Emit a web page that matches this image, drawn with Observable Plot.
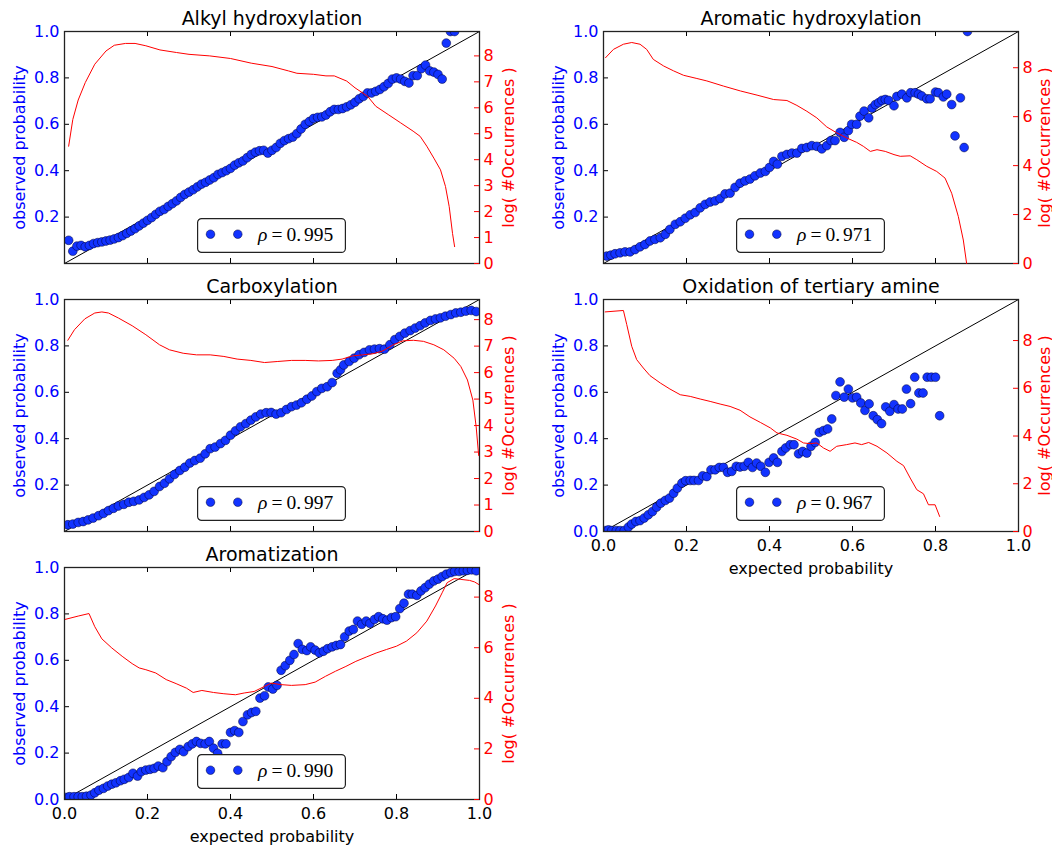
<!DOCTYPE html>
<html>
<head>
<meta charset="utf-8">
<script src="https://cdn.jsdelivr.net/npm/d3@7"></script>
<script src="https://cdn.jsdelivr.net/npm/@observablehq/plot@0.6"></script>
<style>
  html, body { margin: 0; padding: 0; background: #fff; }
  #root { position: relative; width: 1052px; height: 845px; overflow: hidden; font-family: "DejaVu Sans", sans-serif; }
  .panel { position: absolute; }
  .panel > svg, .panel > div { position: absolute; }
</style>
</head>
<body>
<div id="root"></div>
<script>
// ---------- data ----------
const titles = ["Alkyl hydroxylation", "Aromatic hydroxylation", "Carboxylation", "Oxidation of tertiary amine", "Aromatization"];
const rhoValues = ["0.995", "0.971", "0.997", "0.967", "0.990"];

// [expected probability, observed probability]
const alkylPoints = [[0.01,0.10],[0.02,0.053],[0.03,0.075],[0.04,0.078],[0.05,0.072],[0.06,0.078],[0.07,0.086],[0.08,0.09],[0.09,0.093],[0.10,0.097],[0.11,0.101],[0.12,0.106],[0.13,0.112],[0.14,0.12],[0.15,0.13],[0.16,0.14],[0.17,0.15],[0.18,0.162],[0.19,0.174],[0.20,0.186],[0.21,0.198],[0.22,0.212],[0.23,0.225],[0.24,0.233],[0.25,0.246],[0.26,0.258],[0.27,0.27],[0.28,0.285],[0.29,0.298],[0.30,0.308],[0.31,0.318],[0.32,0.33],[0.33,0.342],[0.34,0.35],[0.35,0.36],[0.36,0.37],[0.37,0.384],[0.38,0.392],[0.39,0.40],[0.40,0.41],[0.41,0.424],[0.42,0.434],[0.43,0.442],[0.44,0.456],[0.45,0.47],[0.46,0.48],[0.47,0.486],[0.48,0.488],[0.49,0.476],[0.50,0.488],[0.51,0.50],[0.52,0.518],[0.53,0.53],[0.54,0.538],[0.55,0.545],[0.56,0.56],[0.57,0.58],[0.58,0.60],[0.59,0.612],[0.60,0.625],[0.61,0.63],[0.62,0.632],[0.63,0.64],[0.64,0.654],[0.65,0.664],[0.66,0.664],[0.67,0.668],[0.68,0.675],[0.69,0.684],[0.70,0.695],[0.71,0.71],[0.72,0.72],[0.73,0.735],[0.74,0.735],[0.75,0.742],[0.76,0.75],[0.77,0.762],[0.78,0.776],[0.79,0.795],[0.80,0.80],[0.81,0.795],[0.82,0.785],[0.83,0.778],[0.84,0.81],[0.85,0.81],[0.86,0.84],[0.87,0.855],[0.88,0.83],[0.89,0.825],[0.90,0.815],[0.91,0.795],[0.92,0.95],[0.93,1.0],[0.94,1.0]];
const aromHydPoints = [[0.008,0.032],[0.018,0.036],[0.028,0.042],[0.04,0.046],[0.052,0.05],[0.064,0.05],[0.076,0.06],[0.088,0.072],[0.10,0.082],[0.112,0.097],[0.124,0.104],[0.137,0.111],[0.149,0.126],[0.16,0.147],[0.173,0.169],[0.185,0.18],[0.197,0.195],[0.209,0.21],[0.221,0.22],[0.233,0.24],[0.245,0.255],[0.257,0.265],[0.269,0.27],[0.281,0.28],[0.293,0.30],[0.305,0.303],[0.317,0.328],[0.329,0.346],[0.341,0.356],[0.353,0.364],[0.365,0.378],[0.378,0.39],[0.39,0.397],[0.40,0.414],[0.41,0.44],[0.419,0.428],[0.43,0.462],[0.442,0.47],[0.454,0.476],[0.466,0.476],[0.478,0.496],[0.49,0.50],[0.502,0.508],[0.514,0.505],[0.526,0.494],[0.538,0.508],[0.548,0.53],[0.558,0.53],[0.57,0.565],[0.58,0.544],[0.59,0.573],[0.598,0.60],[0.61,0.60],[0.618,0.635],[0.628,0.657],[0.639,0.628],[0.647,0.67],[0.655,0.685],[0.663,0.693],[0.671,0.703],[0.679,0.707],[0.687,0.703],[0.70,0.68],[0.707,0.72],[0.719,0.73],[0.731,0.714],[0.74,0.736],[0.751,0.736],[0.759,0.73],[0.767,0.722],[0.779,0.71],[0.787,0.71],[0.80,0.739],[0.807,0.736],[0.819,0.718],[0.827,0.73],[0.839,0.685],[0.847,0.55],[0.86,0.714],[0.869,0.50],[0.877,1.0]];
const carboxPoints = [[0.008,0.029],[0.02,0.032],[0.033,0.039],[0.045,0.043],[0.057,0.05],[0.069,0.058],[0.082,0.068],[0.094,0.078],[0.106,0.09],[0.118,0.10],[0.13,0.11],[0.143,0.117],[0.155,0.126],[0.167,0.13],[0.18,0.136],[0.192,0.147],[0.204,0.158],[0.216,0.173],[0.229,0.194],[0.241,0.208],[0.253,0.227],[0.265,0.246],[0.278,0.263],[0.29,0.277],[0.302,0.295],[0.314,0.306],[0.327,0.316],[0.339,0.335],[0.351,0.357],[0.363,0.364],[0.376,0.379],[0.388,0.393],[0.40,0.415],[0.412,0.434],[0.424,0.451],[0.437,0.465],[0.449,0.48],[0.461,0.494],[0.473,0.506],[0.486,0.512],[0.498,0.513],[0.51,0.506],[0.522,0.512],[0.535,0.526],[0.547,0.538],[0.559,0.545],[0.571,0.555],[0.584,0.57],[0.596,0.584],[0.608,0.603],[0.62,0.617],[0.633,0.624],[0.645,0.642],[0.657,0.682],[0.665,0.697],[0.673,0.718],[0.686,0.733],[0.698,0.747],[0.71,0.762],[0.722,0.772],[0.735,0.783],[0.747,0.786],[0.759,0.788],[0.771,0.786],[0.784,0.805],[0.796,0.827],[0.808,0.841],[0.82,0.855],[0.833,0.866],[0.845,0.877],[0.857,0.887],[0.869,0.899],[0.882,0.91],[0.894,0.916],[0.906,0.921],[0.918,0.928],[0.931,0.935],[0.943,0.942],[0.955,0.945],[0.967,0.95],[0.98,0.953],[0.992,0.948]];
const amineOxPoints = [[0.004,0.004],[0.012,0.007],[0.02,0.004],[0.031,0.004],[0.04,0.004],[0.05,0.004],[0.06,0.019],[0.068,0.032],[0.078,0.043],[0.088,0.047],[0.098,0.058],[0.108,0.072],[0.118,0.086],[0.128,0.105],[0.138,0.122],[0.149,0.134],[0.159,0.144],[0.169,0.165],[0.178,0.187],[0.189,0.209],[0.198,0.219],[0.209,0.22],[0.218,0.22],[0.229,0.22],[0.239,0.24],[0.249,0.237],[0.259,0.266],[0.269,0.266],[0.279,0.276],[0.289,0.276],[0.299,0.255],[0.309,0.259],[0.32,0.281],[0.329,0.278],[0.339,0.281],[0.349,0.298],[0.359,0.276],[0.369,0.295],[0.379,0.281],[0.39,0.255],[0.399,0.298],[0.41,0.317],[0.419,0.298],[0.43,0.345],[0.439,0.36],[0.45,0.374],[0.459,0.374],[0.47,0.335],[0.48,0.345],[0.49,0.338],[0.50,0.367],[0.51,0.384],[0.52,0.427],[0.53,0.435],[0.54,0.442],[0.55,0.485],[0.56,0.586],[0.57,0.645],[0.58,0.579],[0.59,0.614],[0.60,0.576],[0.61,0.579],[0.62,0.554],[0.63,0.522],[0.64,0.55],[0.65,0.499],[0.66,0.482],[0.67,0.465],[0.68,0.537],[0.69,0.518],[0.70,0.547],[0.71,0.528],[0.72,0.528],[0.73,0.614],[0.74,0.551],[0.75,0.665],[0.76,0.597],[0.77,0.597],[0.78,0.665],[0.79,0.665],[0.80,0.665],[0.81,0.499]];
const aromatizationPoints = [[0.004,0.009],[0.012,0.012],[0.023,0.012],[0.033,0.012],[0.043,0.012],[0.053,0.014],[0.064,0.019],[0.073,0.029],[0.083,0.04],[0.094,0.048],[0.104,0.058],[0.114,0.066],[0.124,0.072],[0.135,0.081],[0.144,0.087],[0.155,0.095],[0.165,0.113],[0.176,0.101],[0.185,0.12],[0.196,0.127],[0.206,0.13],[0.216,0.134],[0.226,0.144],[0.237,0.137],[0.247,0.163],[0.257,0.185],[0.267,0.203],[0.278,0.216],[0.287,0.206],[0.298,0.228],[0.308,0.24],[0.318,0.25],[0.328,0.242],[0.339,0.24],[0.349,0.25],[0.359,0.221],[0.369,0.199],[0.38,0.24],[0.389,0.24],[0.40,0.289],[0.41,0.297],[0.42,0.289],[0.43,0.336],[0.441,0.365],[0.451,0.375],[0.461,0.38],[0.471,0.437],[0.482,0.447],[0.491,0.485],[0.502,0.476],[0.512,0.492],[0.522,0.557],[0.532,0.577],[0.543,0.6],[0.553,0.625],[0.563,0.672],[0.573,0.647],[0.584,0.642],[0.593,0.658],[0.604,0.644],[0.614,0.632],[0.624,0.639],[0.634,0.65],[0.645,0.658],[0.655,0.664],[0.665,0.668],[0.675,0.701],[0.686,0.726],[0.696,0.733],[0.706,0.769],[0.716,0.755],[0.727,0.769],[0.736,0.759],[0.747,0.776],[0.757,0.788],[0.767,0.779],[0.777,0.773],[0.788,0.784],[0.798,0.788],[0.808,0.823],[0.818,0.846],[0.829,0.885],[0.838,0.885],[0.849,0.88],[0.859,0.899],[0.869,0.913],[0.879,0.928],[0.89,0.942],[0.90,0.95],[0.91,0.961],[0.92,0.971],[0.931,0.978],[0.94,0.983],[0.951,0.983],[0.961,0.986],[0.971,0.988],[0.981,0.99],[0.992,0.986]];

// [expected probability, log(#Occurrences)]
const alkylCounts = [[0.01,4.52],[0.02,5.55],[0.033,6.3],[0.05,6.97],[0.073,7.68],[0.1,8.19],[0.12,8.41],[0.147,8.48],[0.17,8.48],[0.196,8.39],[0.23,8.23],[0.27,8.13],[0.30,8.06],[0.35,8.0],[0.40,7.9],[0.45,7.72],[0.50,7.59],[0.54,7.42],[0.56,7.33],[0.60,7.29],[0.63,7.23],[0.65,7.23],[0.68,7.03],[0.70,6.77],[0.73,6.45],[0.75,6.06],[0.78,5.74],[0.81,5.42],[0.84,5.1],[0.857,4.9],[0.873,4.52],[0.89,4.06],[0.906,3.61],[0.918,2.97],[0.927,2.19],[0.935,1.16],[0.94,0.65]];
const aromHydCounts = [[0.005,8.41],[0.024,8.75],[0.048,8.96],[0.068,9.03],[0.088,8.96],[0.104,8.75],[0.12,8.34],[0.145,8.07],[0.169,7.87],[0.193,7.69],[0.225,7.56],[0.249,7.46],[0.289,7.25],[0.33,7.05],[0.37,6.88],[0.41,6.70],[0.442,6.66],[0.466,6.46],[0.49,6.22],[0.514,5.95],[0.538,5.58],[0.562,5.34],[0.586,5.13],[0.61,4.95],[0.626,4.79],[0.643,4.58],[0.659,4.65],[0.679,4.58],[0.70,4.45],[0.715,4.38],[0.739,4.4],[0.755,4.24],[0.779,3.97],[0.803,3.76],[0.823,3.49],[0.839,2.87],[0.855,1.92],[0.867,0.96],[0.875,0.0]];
const carboxCounts = [[0.008,7.22],[0.024,7.62],[0.049,8.03],[0.073,8.25],[0.09,8.29],[0.106,8.25],[0.13,8.06],[0.163,7.77],[0.196,7.43],[0.229,7.05],[0.253,6.86],[0.286,6.73],[0.318,6.67],[0.351,6.67],[0.384,6.61],[0.416,6.51],[0.449,6.46],[0.482,6.38],[0.514,6.42],[0.547,6.46],[0.58,6.46],[0.612,6.44],[0.645,6.46],[0.669,6.51],[0.694,6.63],[0.718,6.67],[0.743,6.71],[0.767,6.82],[0.792,7.05],[0.816,7.2],[0.841,7.22],[0.865,7.18],[0.89,7.05],[0.914,6.86],[0.939,6.54],[0.955,6.23],[0.971,5.72],[0.984,4.96],[0.992,3.95],[0.998,2.87]];
const amineOxCounts = [[0.004,9.2],[0.048,9.26],[0.056,8.67],[0.068,7.76],[0.08,7.2],[0.096,6.85],[0.112,6.53],[0.137,6.22],[0.16,5.97],[0.185,5.73],[0.209,5.66],[0.233,5.55],[0.257,5.45],[0.281,5.34],[0.305,5.24],[0.329,5.08],[0.353,4.8],[0.378,4.57],[0.402,4.34],[0.418,4.13],[0.442,4.03],[0.466,3.87],[0.482,3.71],[0.498,3.68],[0.514,3.71],[0.53,3.5],[0.546,3.36],[0.562,3.57],[0.586,3.64],[0.606,3.71],[0.622,3.64],[0.639,3.73],[0.659,3.57],[0.683,3.29],[0.707,2.94],[0.723,2.76],[0.739,2.24],[0.755,1.75],[0.771,1.58],[0.783,1.12],[0.799,1.12],[0.81,0.63]];
const aromatizationCounts = [[0.002,7.12],[0.033,7.25],[0.059,7.35],[0.073,6.83],[0.09,6.35],[0.114,5.99],[0.139,5.66],[0.163,5.37],[0.18,5.2],[0.196,5.13],[0.22,5.0],[0.245,4.74],[0.269,4.58],[0.294,4.4],[0.31,4.23],[0.331,4.31],[0.359,4.23],[0.384,4.18],[0.412,4.14],[0.433,4.21],[0.457,4.27],[0.482,4.47],[0.498,4.6],[0.522,4.54],[0.547,4.51],[0.58,4.54],[0.604,4.64],[0.629,4.87],[0.653,5.07],[0.678,5.26],[0.702,5.46],[0.727,5.63],[0.751,5.79],[0.776,5.93],[0.8,6.06],[0.824,6.26],[0.849,6.59],[0.873,7.05],[0.894,7.65],[0.91,8.17],[0.922,8.57],[0.939,8.73],[0.955,8.7],[0.976,8.66],[0.988,8.6],[0.998,8.5]];

// tick values
const probTicks = [0.0, 0.2, 0.4, 0.6, 0.8, 1.0];
const probTicksNoZero = [0.2, 0.4, 0.6, 0.8, 1.0];
const innerXTicks = [0.2, 0.4, 0.6, 0.8];
const countTicksBy1 = [0, 1, 2, 3, 4, 5, 6, 7, 8];
const countTicksBy2 = [0, 2, 4, 6, 8];
const countMax = [8.94, 9.48, 8.76, 9.72, 9.17];
const diagonal = [0, 1];

// ---------- layout ----------
const FW = 415, FH = 232, MT = 31, PH = 313;
const panels = [
  {title: titles[0], rho: rhoValues[0], points: alkylPoints, counts: alkylCounts, cmax: countMax[0], cticks: countTicksBy1, yticks: probTicksNoZero, xlabels: false, left: 0, top: 0, w: 530, ml: 64, rdx: 29},
  {title: titles[1], rho: rhoValues[1], points: aromHydPoints, counts: aromHydCounts, cmax: countMax[1], cticks: countTicksBy2, yticks: probTicksNoZero, xlabels: false, left: 540, top: 0, w: 512, ml: 63, rdx: 26},
  {title: titles[2], rho: rhoValues[2], points: carboxPoints, counts: carboxCounts, cmax: countMax[2], cticks: countTicksBy1, yticks: probTicksNoZero, xlabels: false, left: 0, top: 268, w: 530, ml: 64, rdx: 29},
  {title: titles[3], rho: rhoValues[3], points: amineOxPoints, counts: amineOxCounts, cmax: countMax[3], cticks: countTicksBy2, yticks: probTicks, xlabels: true, left: 540, top: 268, w: 512, ml: 63, rdx: 26},
  {title: titles[4], rho: rhoValues[4], points: aromatizationPoints, counts: aromatizationCounts, cmax: countMax[4], cticks: countTicksBy2, yticks: probTicks, xlabels: true, left: 0, top: 536, w: 530, ml: 64, rdx: 29}
];

const fmt = d3.format(".1f");
const BLUE = "#0000ff", DOT = "#1233ff", RED = "#ff0000";
const root = document.getElementById("root");

function dims(p) {
  return {width: p.w, height: PH, marginLeft: p.ml, marginRight: p.w - p.ml - FW, marginTop: MT, marginBottom: PH - MT - FH,
    style: {background: "transparent", fontFamily: "DejaVu Sans", fontSize: "16px", overflow: "visible"}};
}

function leftPlot(p) {
  const marks = [
    Plot.line(diagonal, {x: d => d, y: d => d, stroke: "black", strokeWidth: 1}),
    Plot.dot(p.points, {x: d => d[0], y: d => d[1], r: 4.4, fill: DOT, stroke: "#000033", strokeWidth: 0.5, clip: true}),
    Plot.ruleY(probTicks, {y: d => d, insetRight: FW - 5, stroke: "black"}),
    Plot.ruleX(innerXTicks, {x: d => d, insetTop: FH - 5, stroke: "black"}),
    Plot.ruleX(innerXTicks, {x: d => d, insetBottom: FH - 5, stroke: "black"}),
    Plot.axisY(p.yticks, {anchor: "left", tickSize: 0, tickPadding: 5, tickFormat: fmt, fill: BLUE, fontSize: 16, label: null}),
    Plot.text(["observed probability"], {text: d => d, frameAnchor: "left", dx: -45, rotate: -90, textAnchor: "middle", lineAnchor: "middle", fill: BLUE, fontSize: 16}),
    Plot.text([p.title], {text: d => d, frameAnchor: "top", dy: -7, textAnchor: "middle", lineAnchor: "bottom", fill: "black", fontSize: 19}),
    Plot.frame({stroke: "#222", strokeWidth: 1.3})
  ];
  if (p.xlabels) {
    marks.push(Plot.axisX(probTicks, {anchor: "bottom", tickSize: 0, tickPadding: 8.5, tickFormat: fmt, fill: "black", fontSize: 16, label: null}));
    marks.push(Plot.text(["expected probability"], {text: d => d, frameAnchor: "bottom", dy: 42.5, textAnchor: "middle", lineAnchor: "bottom", fill: "black", fontSize: 16}));
  }
  return Plot.plot({...dims(p), x: {domain: [0, 1], axis: null}, y: {domain: [0, 1], axis: null}, marks});
}

function rightPlot(p) {
  return Plot.plot({...dims(p), x: {domain: [0, 1], axis: null}, y: {domain: [0, p.cmax], axis: null},
    marks: [
      Plot.line(p.counts, {x: d => d[0], y: d => d[1], stroke: RED, strokeWidth: 1}),
      Plot.ruleY(p.cticks, {y: d => d, insetLeft: FW - 5, stroke: RED}),
      Plot.axisY(p.cticks, {anchor: "right", tickSize: 0, tickPadding: 4, fill: RED, fontSize: 16, label: null}),
      Plot.text(["log( #Occurrences )"], {text: d => d, frameAnchor: "right", dx: p.rdx, rotate: -90, textAnchor: "middle", lineAnchor: "middle", fill: RED, fontSize: 16})
    ]});
}

function legendBox(p) {
  const bw = 149, bh = 35;
  const div = document.createElement("div");
  div.style.left = (p.ml + (FW - bw) / 2) + "px";
  div.style.top = (MT + FH - 10 - bh) + "px";
  div.style.width = bw + "px";
  div.style.height = bh + "px";
  div.innerHTML = `<svg width="${bw}" height="${bh}" xmlns="http://www.w3.org/2000/svg">
    <rect x="0.6" y="0.6" width="${bw - 1.2}" height="${bh - 1.2}" rx="4" ry="4" fill="white" stroke="#222" stroke-width="1.2"/>
    <circle cx="13.5" cy="16.2" r="4.3" fill="${DOT}" stroke="#000033" stroke-width="0.5"/>
    <circle cx="40.8" cy="16.2" r="4.3" fill="${DOT}" stroke="#000033" stroke-width="0.5"/>
    <text x="61" y="23" font-family="Liberation Serif, serif" font-size="19.5" fill="black"><tspan font-style="italic">ρ</tspan><tspan dx="4">=</tspan><tspan dx="4">0.</tspan><tspan dx="3">${p.rho.slice(2)}</tspan></text>
  </svg>`;
  return div;
}

for (const p of panels) {
  const c = document.createElement("div");
  c.className = "panel";
  c.style.left = p.left + "px";
  c.style.top = p.top + "px";
  c.style.width = p.w + "px";
  c.style.height = PH + "px";
  const a = leftPlot(p);
  const b = rightPlot(p);
  a.style.left = "0px"; a.style.top = "0px";
  b.style.left = "0px"; b.style.top = "0px";
  c.appendChild(a);
  c.appendChild(legendBox(p));
  c.appendChild(b);
  root.appendChild(c);
}
</script>
</body>
</html>
